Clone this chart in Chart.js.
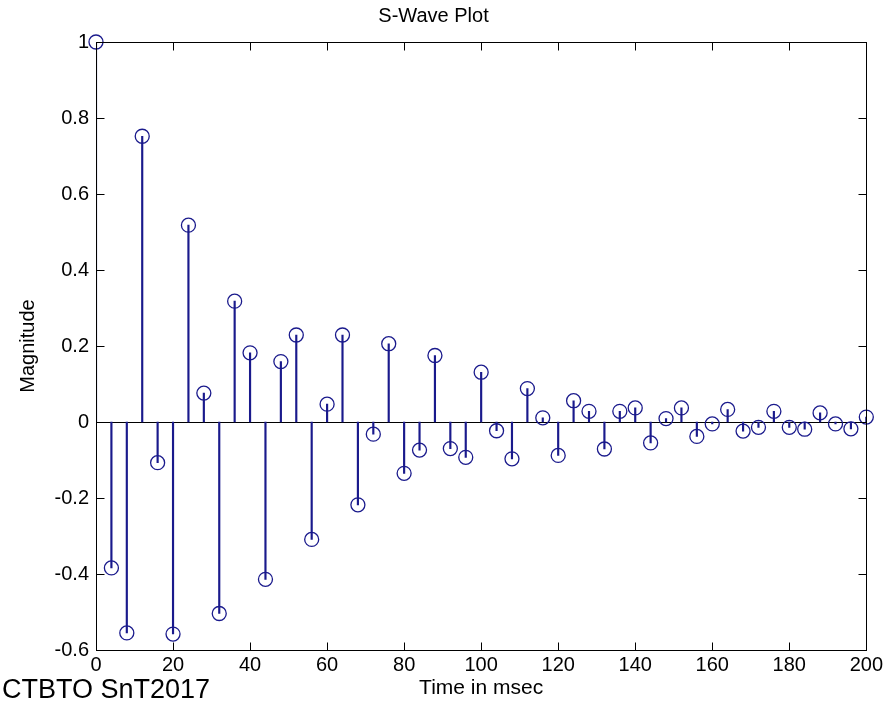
<!DOCTYPE html>
<html><head><meta charset="utf-8">
<script src="https://cdn.jsdelivr.net/npm/chart.js@4/dist/chart.umd.min.js"></script>
<style>
html,body{margin:0;padding:0;background:#fff}
#wrap{position:relative;width:886px;height:710px}
#note{position:absolute;left:2px;top:674px;font:27px "Liberation Sans",Arial,sans-serif;color:#000;line-height:30px;white-space:nowrap}
</style></head>
<body>
<div id="wrap"><canvas id="c" width="886" height="710"></canvas><div id="note">CTBTO SnT2017</div></div>
<script>
const chartTitle = "S-Wave Plot";
const xLabel = "Time in msec";
const yLabel = "Magnitude";
const timeMs = [0,4,8,12,16,20,24,28,32,36,40,44,48,52,56,60,64,68,72,76,80,84,88,92,96,100,104,108,112,116,120,124,128,132,136,140,144,148,152,156,160,164,168,172,176,180,184,188,192,196,200];
const magnitude = [1.0,-0.384,-0.555,0.752,-0.107,-0.558,0.518,0.076,-0.504,0.318,0.182,-0.414,0.159,0.229,-0.309,0.047,0.229,-0.218,-0.032,0.206,-0.135,-0.074,0.175,-0.07,-0.093,0.131,-0.023,-0.097,0.088,0.011,-0.088,0.056,0.028,-0.071,0.028,0.037,-0.055,0.009,0.037,-0.038,-0.005,0.033,-0.024,-0.014,0.028,-0.014,-0.019,0.024,-0.005,-0.018,0.013];
const xTicks = [0,20,40,60,80,100,120,140,160,180,200];
const yTicks = [-0.6,-0.4,-0.2,0,0.2,0.4,0.6,0.8,1];
const yTickLabels = ["-0.6","-0.4","-0.2","0","0.2","0.4","0.6","0.8","1"];

const stemColor = "#1a1a8c";
const points = timeMs.map((t,i)=>({x:t,y:magnitude[i]}));
const FONT = "'Liberation Sans', Arial, sans-serif";

const boxPlugin = {
  id:'matlabBox',
  beforeDatasetsDraw(chart){
    const {ctx, chartArea:a, scales:{x,y}} = chart;
    ctx.save();
    ctx.strokeStyle = '#000'; ctx.lineWidth = 1;
    const y0 = Math.round(y.getPixelForValue(0))+0.5;
    ctx.beginPath(); ctx.moveTo(a.left,y0); ctx.lineTo(a.right,y0); ctx.stroke();
    ctx.restore();
  },
  afterDatasetsDraw(chart){
    const {ctx, chartArea:a, scales:{x,y}} = chart;
    ctx.save();
    ctx.strokeStyle = '#000'; ctx.lineWidth = 1;
    const L=Math.round(a.left)+0.5, R=Math.round(a.right)+0.5, T=Math.round(a.top)+0.5, B=Math.round(a.bottom)+0.5;
    ctx.strokeRect(L,T,R-L,B-T);
    const tl = 8;
    ctx.beginPath();
    xTicks.forEach(v=>{const px=Math.round(x.getPixelForValue(v))+0.5; ctx.moveTo(px,B); ctx.lineTo(px,B-tl); ctx.moveTo(px,T); ctx.lineTo(px,T+tl);});
    yTicks.forEach(v=>{const py=Math.round(y.getPixelForValue(v))+0.5; ctx.moveTo(L,py); ctx.lineTo(L+tl,py); ctx.moveTo(R,py); ctx.lineTo(R-tl,py);});
    ctx.stroke();
    ctx.restore();
  }
};

new Chart(document.getElementById('c'), {
  data:{
    datasets:[
      {type:'bar', data:points, backgroundColor:stemColor, borderWidth:0, barThickness:1.5, order:2},
      {type:'scatter', data:points, showLine:false, pointStyle:'circle', pointRadius:7, pointBorderWidth:1.3,
       pointBorderColor:stemColor, pointBackgroundColor:'rgba(0,0,0,0)', order:1, clip:false}
    ]
  },
  options:{
    responsive:false, animation:false,
    layout:{padding:{left:0,right:19,top:0,bottom:0}},
    plugins:{
      legend:{display:false}, tooltip:{enabled:false},
      title:{display:true, text:chartTitle, color:'#000', font:{family:FONT,size:20,weight:'normal'}, padding:{top:4,bottom:14}}
    },
    scales:{
      x:{type:'linear', min:0, max:200, offset:false,
         afterBuildTicks(s){s.ticks = xTicks.map(v=>({value:v}));},
         afterFit(s){s.height=60;},
         grid:{display:false, drawTicks:false}, border:{display:false},
         ticks:{color:'#000', font:{family:FONT,size:20}, padding:3, maxRotation:0, autoSkip:false},
         title:{display:true, text:xLabel, color:'#000', font:{family:FONT,size:21}, padding:{top:0,bottom:9}}
      },
      y:{type:'linear', min:-0.6, max:1,
         afterBuildTicks(s){s.ticks = yTicks.map(v=>({value:v}));},
         afterFit(s){s.width=96;},
         grid:{display:false, drawTicks:false}, border:{display:false},
         ticks:{color:'#000', font:{family:FONT,size:20}, padding:7, autoSkip:false,
                callback:(v)=>{const i=yTicks.findIndex(t=>Math.abs(t-v)<1e-9); return i>=0?yTickLabels[i]:'';}},
         title:{display:true, text:yLabel, color:'#000', font:{family:FONT,size:20}, padding:{top:16,bottom:0}}
      }
    }
  },
  plugins:[boxPlugin]
});
</script>
</body></html>
